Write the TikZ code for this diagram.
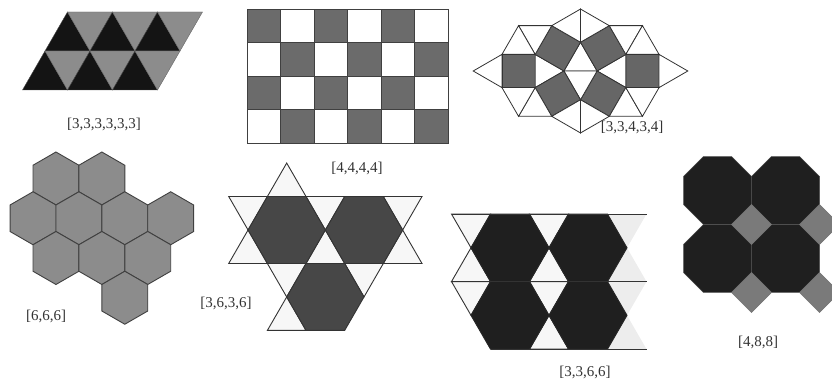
\documentclass[tikz,border=0pt]{standalone}
\usepackage{fontspec}
\setmainfont{Liberation Serif}
\usetikzlibrary{calc}
\tikzset{
  darktri/.style={fill=black!92, draw=black!70, line width=0.4pt},
  greytri/.style={fill=black!45, draw=black!60, line width=0.4pt},
  cell/.style={draw=black!75, line width=0.9pt},
  sqtile/.style={fill=black!60, draw=black!80, line width=0.8pt},
  tritile/.style={fill=white, draw=black!80, line width=0.8pt},
  hexgrey/.style={fill=black!45, draw=black!75, line width=0.9pt},
  hexdark/.style={fill=black!72, draw=black!80, line width=0.9pt},
  hexblack/.style={fill=black!88, draw=black!85, line width=0.9pt},
  wtri/.style={fill=black!3, draw=black!80, line width=0.9pt},
  faint/.style={fill=black!7},
  rule/.style={draw=black!80, line width=0.9pt},
  octo/.style={fill=black!88, draw=black!70, line width=0.5pt},
  dia/.style={fill=black!52, draw=black!55, line width=0.4pt},
  tname/.style={font=\fontsize{15}{18}\selectfont, text=black!80}
}

\begin{document}
\begin{tikzpicture}[x=1pt, y=-1pt]
  \useasboundingbox (0,0) rectangle (832,387);

  % [3,3,3,3,3,3]
  \foreach \i in {0,1,2} {
    \filldraw[darktri] (45+45*\i,51) -- ++(45,0) -- ++(-22.5,-39) -- cycle;
    \filldraw[greytri] (67.5+45*\i,12) -- ++(45,0) -- ++(-22.5,39) -- cycle;
    \filldraw[darktri] (22.5+45*\i,90) -- ++(45,0) -- ++(-22.5,-39) -- cycle;
    \filldraw[greytri] (45+45*\i,51) -- ++(45,0) -- ++(-22.5,39) -- cycle;
  }
  \node[tname] (t333333) at (104,124) {[3,3,3,3,3,3]};

  % [4,4,4,4]
  \foreach \r in {0,...,3}
    \foreach \c in {0,...,5} {
      \pgfmathtruncatemacro\tone{mod(\r+\c,2)==0 ? 58 : 0}
      \filldraw[cell, fill=black!\tone] (247+33.5*\c,9+33.5*\r) rectangle ++(33.5,33.5);
    }
  \node[tname] (t4444) at (357,168) {[4,4,4,4]};

  % [3,3,4,3,4]
  \begin{scope}[shift={(580.5,71)}, x=33.2pt, y=33.2pt]
    \foreach \s in {1,-1} {
      \filldraw[sqtile] (1.366*\s,-0.5) rectangle (2.366*\s,0.5);
      \filldraw[tritile] (1.366*\s,0.5) -- (1.366*\s,-0.5) -- (0.5*\s,0) -- cycle;
      \filldraw[tritile] (2.366*\s,0.5) -- (2.366*\s,-0.5) -- (3.232*\s,0) -- cycle;
      \filldraw[tritile] (-0.5,0) -- (0.5,0) -- (0,0.866*\s) -- cycle;
      \foreach \t in {1,-1} {
        \begin{scope}[xscale=\s, yscale=\t]
          \filldraw[sqtile] (0.5,0) -- (0,0.866) -- (0.866,1.366) -- (1.366,0.5) -- cycle;
          \filldraw[tritile] (0,0.866) -- (0,1.866) -- (0.866,1.366) -- cycle;
          \filldraw[tritile] (1.366,0.5) -- (0.866,1.366) -- (1.866,1.366) -- cycle;
          \filldraw[tritile] (1.366,0.5) -- (1.866,1.366) -- (2.366,0.5) -- cycle;
        \end{scope}
      }
    }
  \end{scope}
  \node[tname] (t33434) at (632,127) {[3,3,4,3,4]};

  % [6,6,6]
  \foreach \k/\r in {1/0,3/0,0/1,2/1,4/1,6/1,1/2,3/2,5/2,4/3}
    \filldraw[hexgrey] (33+22.95*\k,178.5+39.75*\r) +(30:26.5) -- +(90:26.5) -- +(150:26.5)
      -- +(210:26.5) -- +(270:26.5) -- +(330:26.5) -- cycle;
  \node[tname] (t666) at (46,316) {[6,6,6]};

  % [3,6,3,6]
  \begin{scope}[shift={(286.7,230)}, x=38.65pt, y=-38.65pt]
    \foreach \bx/\by/\d in {-0.5/-0.866/-1, -1.5/-0.866/1, -1.5/0.866/-1, 0.5/-0.866/1, 0.5/0.866/-1,
                            2.5/-0.866/1, 2.5/0.866/-1, -0.5/0.866/1, -0.5/2.598/-1, 1.5/0.866/1}
      \filldraw[wtri] (\bx,\by) -- ++(1,0) -- ++(-0.5,{0.866*\d}) -- cycle;
    \foreach \cx/\cy in {0/0, 2/0, 1/1.732}
      \filldraw[hexdark] (\cx,\cy) +(0:1) -- +(60:1) -- +(120:1) -- +(180:1) -- +(240:1) -- +(300:1) -- cycle;
  \end{scope}
  \node[tname] (t3636) at (226,303) {[3,6,3,6]};

  % [3,3,6,6]
  \begin{scope}[shift={(510,247.8)}, x=39pt, y=-39pt]
    \foreach \bx/\by/\d in {2.5/-0.866/1, 2.5/0.866/-1, 2.5/0.866/1, 2.5/2.598/-1}
      \fill[faint] (\bx,\by) -- ++(1,0) -- ++(-0.5,{0.866*\d}) -- cycle;
    \foreach \bx/\by/\d in {-1.5/-0.866/1, -1.5/0.866/-1, -1.5/0.866/1, 0.5/-0.866/1,
                            0.5/0.866/-1, 0.5/0.866/1, 0.5/2.598/-1}
      \filldraw[wtri] (\bx,\by) -- ++(1,0) -- ++(-0.5,{0.866*\d}) -- cycle;
    \foreach \cx/\cy in {0/0, 2/0, 0/1.732, 2/1.732}
      \filldraw[hexblack] (\cx,\cy) +(0:1) -- +(60:1) -- +(120:1) -- +(180:1) -- +(240:1) -- +(300:1) -- cycle;
    \draw[rule] (-1.5,-0.866) -- (3.5,-0.866);
    \draw[rule] (-1.5,0.866) -- (3.5,0.866);
    \draw[rule] (-0.5,2.598) -- (3.5,2.598);
  \end{scope}
  \node[tname] (t3366) at (585,372) {[3,3,6,6]};

  % [4,8,8]
  \begin{scope}
    \clip (0,0) rectangle (832,387);
    \foreach \cx/\cy in {717.5/190.5, 785.5/190.5, 717.5/258.5, 785.5/258.5}
      \filldraw[octo] (\cx,\cy) +(22.5:36.8) \foreach \a in {67.5,112.5,...,337.5} { -- +(\a:36.8) } -- cycle;
    \foreach \cx/\cy in {751.5/224.5, 819.5/224.5, 751.5/292.5, 819.5/292.5}
      \filldraw[dia] (\cx,\cy) +(20,0) -- +(0,20) -- +(-20,0) -- +(0,-20) -- cycle;
  \end{scope}
  \node[tname] (t488) at (758,342) {[4,8,8]};
\end{tikzpicture}
\end{document}
